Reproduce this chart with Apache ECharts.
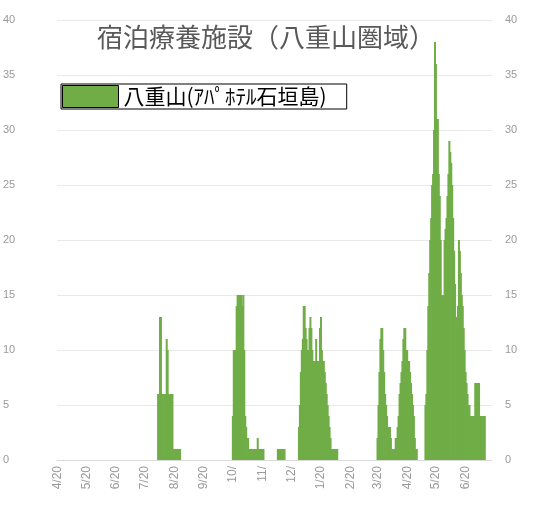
<!DOCTYPE html>
<html>
<head>
<meta charset="utf-8">
<script src="https://cdn.jsdelivr.net/npm/echarts@6/dist/echarts.min.js"></script>
<style>html,body{margin:0;padding:0;background:#fff}#c{width:551px;height:509px}</style>
</head>
<body>
<div id="c"></div>
<script>
// ---- data ----
const startDate = '2020-04-20';
const endDate = '2021-07-17';
const seriesName = '八重山(ｱﾊﾟﾎﾃﾙ石垣島)';
const titleText = '宿泊療養施設（八重山圏域）';
const tickDates = ['2020-04-20','2020-05-20','2020-06-20','2020-07-20','2020-08-20','2020-09-20','2020-10-20','2020-11-20','2020-12-20','2021-01-20','2021-02-20','2021-03-20','2021-04-20','2021-05-20','2021-06-20'];
const tickLabels = ['4/20','5/20','6/20','7/20','8/20','9/20','10/','11/','12/','1/20','2/20','3/20','4/20','5/20','6/20'];
const yTicks = [0,5,10,15,20,25,30,35,40];

// daily values per wave: start date + values
const wave1Start = '2020-08-03';
const wave1 = [6,6,13,13,6,6,6,6,6,11,10,6,6,6,6,6,1,1,1,1,1,1,1,1];
const wave2Start = '2020-10-20';
const wave2 = [4,10,10,10,14,15,15,15,15,15,14,15,10,4,3,2,2,1,1,1,1,1,1,1,1,1,2,1,1,1,1,1,1];
const wave2bStart = '2020-12-06';
const wave2b = [1,1,1,1,1,1,1,1];
const wave3Start = '2020-12-28';
const wave3 = [3,5,8,10,11,14,14,12,11,10,10,12,13,12,10,9,9,9,11,9,9,9,12,13,10,9,9,8,7,6,5,4,3,2,1,1,1,1,1,1,1];
const wave4Start = '2021-03-20';
const wave4 = [2,5,8,11,12,12,10,8,6,5,4,3,3,3,2,1,1,1,1,2,2,3,4,6,7,8,9,11,12,12,10,10,9,9,8,7,6,5,4,2,1,1];
const wave5Start = '2021-05-09';
const wave5 = [5,6,10,14,17,20,22,25,26,30,38,36,31,31,26,24,20,15,15,15,20,21,22,24,26,29,28,27,25,22,19,16,13,12,14,20,19,17,15,14,12,10,8,7,6,5,5,4,4,4,4,4,7,7,7,7,7,4,4,4,4,4,4];

// ---- build categories & series ----
function parse(s){const [y,m,d]=s.split('-').map(Number);return Date.UTC(y,m-1,d);}
function fmt(t){const d=new Date(t);return d.getUTCFullYear()+'-'+String(d.getUTCMonth()+1).padStart(2,'0')+'-'+String(d.getUTCDate()).padStart(2,'0');}
const DAY=86400000;
const categories=[];
for(let t=parse(startDate);t<=parse(endDate);t+=DAY) categories.push(fmt(t));
const values=categories.map(()=>0);
[[wave1Start,wave1],[wave2Start,wave2],[wave2bStart,wave2b],[wave3Start,wave3],[wave4Start,wave4],[wave5Start,wave5]].forEach(([s,arr])=>{
  const i0=categories.indexOf(s);
  arr.forEach((v,k)=>{values[i0+k]=v;});
});
const tickMap={};
tickDates.forEach((d,i)=>{tickMap[d]=tickLabels[i];});

const chart=echarts.init(document.getElementById('c'),null,{renderer:'canvas'});
const labelStyle={color:'#9a9a9a',fontSize:11,fontFamily:'Liberation Sans, Arial, sans-serif'};
chart.setOption({
  animation:false,
  backgroundColor:'#ffffff',
  title:{text:titleText,left:97,top:24,padding:0,textStyle:{fontSize:26,fontWeight:'normal',color:'#595959',fontFamily:'Noto Sans CJK JP'}},
  legend:{
    left:61,top:84,padding:[1,20,1,1],
    backgroundColor:'#fff',borderColor:'#000',borderWidth:1,borderRadius:0,
    itemWidth:56,itemHeight:22,itemGap:0,
    itemStyle:{borderColor:'#000',borderWidth:1},
    textStyle:{fontSize:21,color:'#000',fontFamily:'Noto Sans CJK JP',padding:[0,0,0,0]},
    data:[{name:seriesName,icon:'rect'}]
  },
  grid:{left:57,right:59,top:20,bottom:49},
  xAxis:{
    type:'category',data:categories,boundaryGap:true,
    axisLine:{lineStyle:{color:'#d9d9d9'}},axisTick:{show:false},
    axisLabel:Object.assign({},labelStyle,{rotate:90,margin:6,fontSize:12,
      interval:(i,v)=>tickMap[v]!==undefined,
      formatter:(v)=>tickMap[v]||''})
  },
  yAxis:[
    {type:'value',min:0,max:40,interval:5,position:'left',
     axisLine:{show:false},axisTick:{show:false},
     splitLine:{lineStyle:{color:'#e9e9e9'}},
     axisLabel:Object.assign({},labelStyle,{align:'left',margin:54,formatter:(v)=>yTicks.includes(v)?String(v):''})},
    {type:'value',min:0,max:40,interval:5,position:'right',
     axisLine:{show:false},axisTick:{show:false},splitLine:{show:false},
     axisLabel:Object.assign({},labelStyle,{align:'left',margin:13,formatter:(v)=>yTicks.includes(v)?String(v):''})}
  ],
  series:[{
    name:seriesName,type:'bar',data:values,
    barWidth:2,barGap:'-100%',
    itemStyle:{color:'#70ad47'},
    emphasis:{disabled:true}
  }]
});
</script>
</body>
</html>
